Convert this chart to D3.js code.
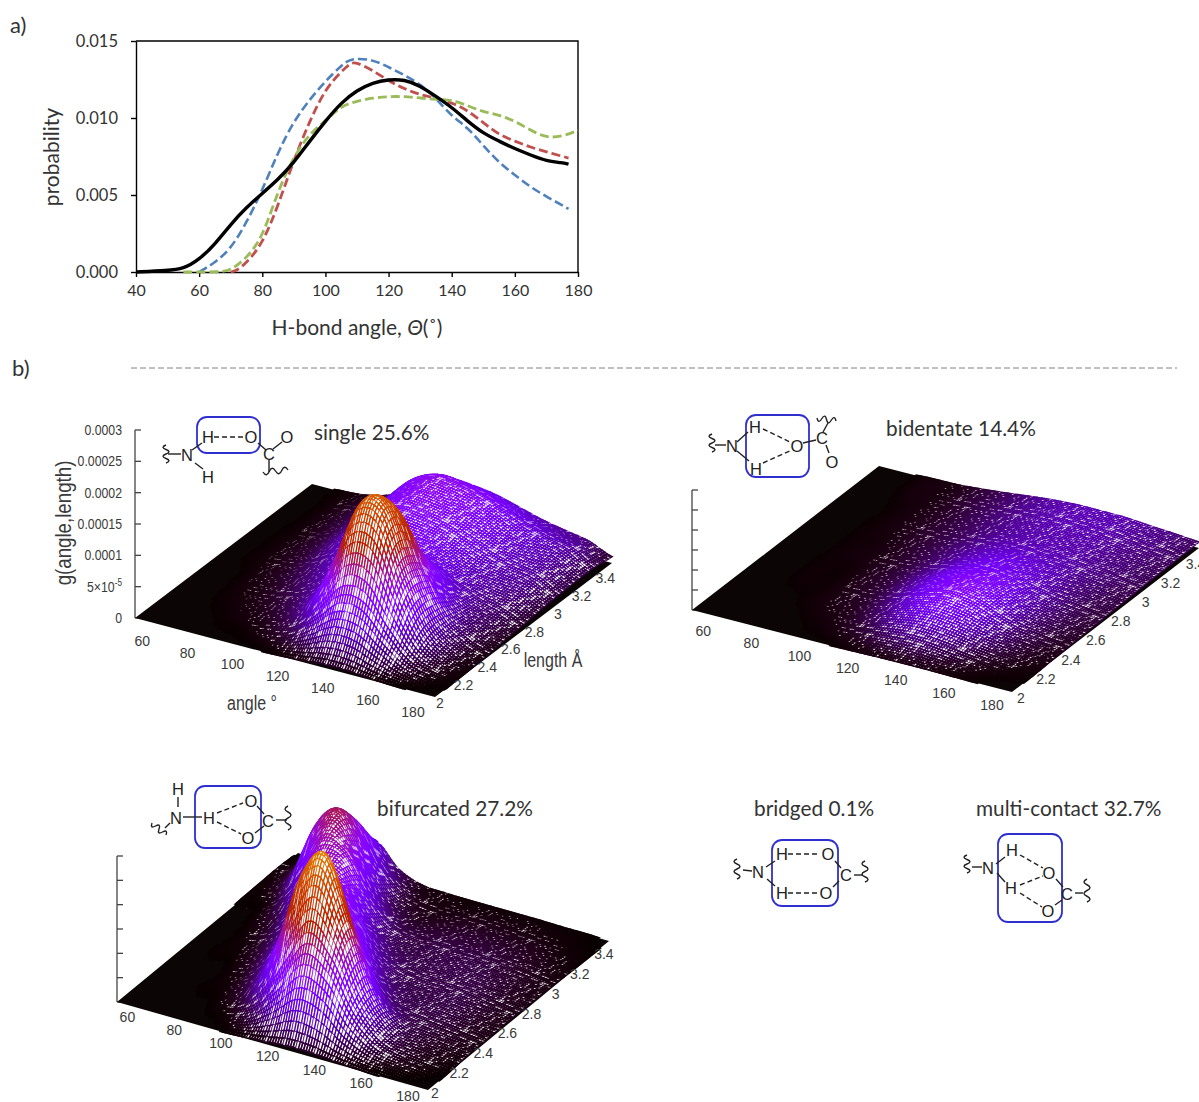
<!DOCTYPE html>
<html>
<head>
<meta charset="utf-8">
<style>
  html, body { margin: 0; padding: 0; background: #fff; }
  svg { display: block; }
  text { fill: #333; font-family: Lato, "Open Sans", sans-serif; }
  .plot-label { font-family: "Liberation Sans", sans-serif; fill: #3a3a3a; }
  .chem { font-family: "Liberation Sans", sans-serif; font-size: 16.5px; fill: #222; text-anchor: middle; dominant-baseline: central; }
  .mesh { filter: blur(.45px); }
</style>
</head>
<body>
<svg id="chart" width="1199" height="1102"></svg>
<script src="https://cdn.jsdelivr.net/npm/d3@7"></script>
<script>
const width = 1199;
const height = 1102;

// a) probability vs H-bond angle, [angle, probability]
const blackSeries = [[40,0],[50,.0001],[55,.0002],[60,.0008],[65,.0018],[70,.0031],[75,.0042],[80,.0051],[85,.006],[90,.0071],[95,.0085],[100,.0098],[105,.011],[110,.0118],[115,.0123],[120,.0125],[125,.0125],[130,.0121],[135,.0114],[140,.0107],[145,.0098],[150,.009],[155,.0085],[160,.008],[165,.0076],[170,.0072],[175,.0071],[177,.007]];
const blueSeries = [[60,0],[65,.0006],[70,.0015],[75,.0032],[80,.0053],[85,.0078],[90,.0098],[95,.0112],[100,.0124],[105,.0134],[108,.0139],[115,.0138],[120,.0133],[125,.0128],[130,.0122],[135,.0113],[140,.0101],[145,.0094],[150,.0082],[155,.0071],[160,.0063],[165,.0055],[170,.0049],[177,.0041]];
const redSeries = [[70,0],[72,.0001],[75,.0006],[80,.0018],[85,.0043],[90,.0073],[95,.0098],[100,.0119],[105,.013],[108,.0136],[110,.0136],[115,.0131],[120,.0124],[125,.0119],[130,.0115],[135,.0113],[140,.011],[145,.0105],[150,.0097],[155,.0089],[160,.0085],[165,.0081],[170,.0078],[177,.0074]];
const greenSeries = [[55,0],[67,0],[70,.0001],[75,.0009],[80,.0022],[85,.0053],[90,.0075],[95,.009],[100,.0098],[105,.0108],[110,.0111],[115,.0113],[120,.0114],[125,.0114],[130,.0113],[135,.0112],[140,.0112],[145,.0108],[150,.0104],[155,.0102],[160,.0098],[165,.0092],[170,.0087],[175,.0088],[180,.0092]];
const probTicks = [0, .005, .01, .015];
const angleAxisTicks = [40, 60, 80, 100, 120, 140, 160, 180];

// b) surfaces, g(angle,length) in units of 1e-5
const angleGrid = [50,60,70,80,90,100,110,120,130,140,150,160,170,180];
const lengthGrid = [2,2.15,2.3,2.45,2.6,2.75,2.9,3.05,3.2,3.35,3.5];
const singleGrid = [
  [0,0,0,0,0,0,.1,.3,.6,.6,.3,.1,0,0],
  [0,0,0,.1,.2,.7,1.9,5.1,8.8,8.7,4.9,1.7,.5,.1],
  [0,0,.1,.3,.7,1.8,4.8,12.1,20.8,20.6,11.5,4,1.2,.2],
  [0,0,.2,.5,1.3,2.8,5.7,12.3,20,19.6,11.2,4.3,1.6,.4],
  [0,0,.3,.8,2,3.9,5.8,9,12.6,12,7.3,3.5,1.9,.7],
  [0,.1,.4,1.1,2.8,5,6.4,7.1,7.5,6.6,4.7,3.2,2.2,.9],
  [0,.1,.5,1.4,3.6,6.4,7.7,7.6,7,5.8,4.4,3.6,2.8,1.2],
  [0,.1,.5,1.6,4,7.2,8.6,8.4,7.6,6.3,5,4,3.2,1.4],
  [0,.1,.6,1.8,4.4,7.8,9.4,9.1,8.2,6.9,5.4,4.4,3.4,1.5],
  [0,.1,.6,1.8,4.5,8,9.6,9.3,8.4,7,5.5,4.5,3.5,1.5],
  [0,.1,.4,1.3,3.2,5.6,6.7,6.5,5.9,4.9,3.9,3.2,2.5,1]
];
const bidentateGrid = [
  [0,0,0,0,0,0,.1,.2,.3,.3,.2,.1,0,0],
  [0,0,0,0,.1,.3,.8,1.6,2,1.8,1.1,.5,.2,.1],
  [0,0,0,.1,.3,.6,1.8,3.5,4.5,4,2.6,1.3,.6,.3],
  [0,0,.1,.1,.4,.9,2.5,4.8,6.2,5.6,3.6,1.8,.9,.5],
  [0,0,.1,.1,.5,1.1,2.7,4.9,6.2,5.7,3.8,2.1,1.2,.7],
  [0,0,.1,.2,.5,1.1,2.4,4.1,5.1,4.7,3.4,2.2,1.3,.9],
  [0,0,.1,.2,.6,1.2,2.2,3.4,4.2,3.9,3.1,2.1,1.5,1.1],
  [0,0,.1,.3,.7,1.2,2,2.8,3.2,3.1,2.8,2.2,1.7,1.3],
  [0,0,.1,.3,.7,1.3,2,2.6,2.9,2.9,2.7,2.2,1.8,1.4],
  [0,0,.2,.3,.8,1.4,2.1,2.7,3,3,2.9,2.4,2,1.5],
  [0,0,.2,.3,.8,1.4,2.1,2.7,3,3,2.9,2.4,2,1.5]
];
const bifurcatedGrid = [
  [0,0,0,0,0,.2,.5,.9,.9,.5,.2,0,0,0],
  [0,0,0,.1,.8,4,11,18,15,7,2.5,1,.4,.1],
  [0,0,.1,.5,3.4,13,28,34,22,9.2,3,1.4,.8,.4],
  [0,0,.1,1.3,6.2,17,26,21.6,10.4,3.9,2.1,1.6,1,.5],
  [0,.1,.4,2.7,8.9,17,18,10.6,4.2,2.2,2,1.8,1.1,.6],
  [0,.1,1,4.5,11,15,11,5,2.5,2,2,1.8,1.1,.6],
  [0,.3,2.5,9,14,11.6,5.3,2.4,2,2,2,1.6,1,.5],
  [.1,1,7,16,15.2,8,3,1.8,1.8,1.8,1.7,1.3,.8,.4],
  [.2,3.5,15,19,11.2,3.6,1.2,1,1.2,1.2,1.1,.9,.5,.2],
  [.3,4,14,14,6.5,1.7,.6,.5,.6,.6,.5,.4,.2,.1],
  [0,1,5,7.2,2.6,.6,.3,.2,.2,.2,.2,.1,.1,0]
];
const surfaceAngleTicks = [60,80,100,120,140,160,180];
const surfaceLengthTicks = [2,2.2,2.4,2.6,2.8,3,3.2,3.4];
const zTickLabels = ["0","5×10","0.0001","0.00015","0.0002","0.00025","0.0003"];
const zTickValues = [0,5,10,15,20,25,30];

const svg = d3.select("#chart");

// ---- a) line chart
const x = d3.scaleLinear().domain([40, 180]).range([136, 578]);
const y = d3.scaleLinear().domain([0, .015]).range([272, 41]);
const line = d3.line().x(d => x(d[0])).y(d => y(d[1])).curve(d3.curveBasis);

svg.append("g").attr("transform", "translate(0,272)")
    .call(d3.axisBottom(x).tickValues(angleAxisTicks).tickSize(5).tickSizeOuter(0).tickFormat(d3.format("d")))
    .call(g => g.selectAll("text").attr("dy", "1em").style("font-size", "16px").style("font-family", "Lato"))
    .call(g => g.selectAll("path,line").attr("stroke-width", 1.4));
svg.append("g").attr("transform", "translate(136,0)")
    .call(d3.axisLeft(y).tickValues(probTicks).tickSize(5).tickSizeOuter(0).tickPadding(13).tickFormat(d3.format(".3f")))
    .call(g => g.selectAll("text").style("font-size", "16.5px").style("font-family", "Lato"))
    .call(g => g.selectAll("path,line").attr("stroke-width", 1.4));
svg.append("path").attr("d", "M136,41H578V272").attr("fill", "none").attr("stroke", "#000").attr("stroke-width", 1.4);

[[blueSeries, "#4f81bd", 2.6], [redSeries, "#c0504d", 2.8], [greenSeries, "#9bbb59", 2.8]].forEach(s => {
    svg.append("path").attr("d", line(s[0])).attr("fill", "none")
        .attr("stroke", s[1]).attr("stroke-width", s[2]).attr("stroke-dasharray", "9,4");
});
svg.append("path").attr("d", line(blackSeries)).attr("fill", "none").attr("stroke", "#000").attr("stroke-width", 3.4);

svg.append("text").attr("x", 10).attr("y", 33).style("font-size", "22px").text("a)");
svg.append("text").attr("x", 12).attr("y", 376).style("font-size", "22px").text("b)");
svg.append("text").attr("transform", "translate(59,157) rotate(-90)").attr("text-anchor", "middle")
    .style("font-size", "21px").text("probability");
const xTitle = svg.append("text").attr("x", 357).attr("y", 335).attr("text-anchor", "middle").style("font-size", "21px");
xTitle.append("tspan").text("H-bond angle, ");
xTitle.append("tspan").style("font-style", "italic").text("Θ");
xTitle.append("tspan").text("(˚)");

svg.append("line").attr("x1", 131).attr("x2", 1177).attr("y1", 368).attr("y2", 368)
    .attr("stroke", "#808080").attr("stroke-dasharray", "6,3");

// ---- b) surfaces
// gnuplot default pm3d palette: rgbformulae 7,5,15
function palette(t) {
    t = Math.max(0, Math.min(1, t));
    return d3.rgb(255 * Math.sqrt(t), 255 * t * t * t, 255 * Math.max(0, Math.sin(2 * Math.PI * t))).formatHex();
}

// passes through the read grid values, only for drawing the fine mesh between them
function catmull(arr, u) {
    const n = arr.length - 1;
    const i = Math.min(n - 1, Math.floor(u));
    const t = u - i;
    const p0 = arr[Math.max(0, i - 1)], p1 = arr[i], p2 = arr[i + 1], p3 = arr[Math.min(n, i + 2)];
    return Math.max(0, .5 * (2 * p1 + (p2 - p0) * t + (2 * p0 - 5 * p1 + 4 * p2 - p3) * t * t + (3 * p1 - p0 - 3 * p2 + p3) * t * t * t));
}

function drawSurface(cfg) {
    const g = svg.append("g");
    const ta = d3.scaleLinear().domain([47, 180]).range([0, 1]);
    const tl = d3.scaleLinear().domain([2, 3.5]).range([0, 1]);
    const z = d3.scaleLinear().domain([0, 30]).range([0, cfg.zPx]);
    const ax = cfg.front[0] - cfg.left[0], ay = cfg.front[1] - cfg.left[1];
    const bx = cfg.right[0] - cfg.front[0], by = cfg.right[1] - cfg.front[1];
    const proj = (a, l, v) => [
        cfg.left[0] + ta(a) * ax + tl(l) * bx,
        cfg.left[1] + ta(a) * ay + tl(l) * by - z(v)
    ];

    // z axis
    zTickValues.forEach(t => {
        const p = cfg.left[1] - z(t);
        g.append("line").attr("x1", cfg.left[0]).attr("x2", cfg.left[0] + 6).attr("y1", p).attr("y2", p).attr("stroke", "#444").attr("stroke-width", 1.3);
    });
    g.append("line").attr("x1", cfg.left[0]).attr("x2", cfg.left[0]).attr("y1", cfg.left[1]).attr("y2", cfg.left[1] - z(30)).attr("stroke", "#444").attr("stroke-width", 1.3);

    const mesh = g.append("g").attr("class", "mesh");
    mesh.append("polygon").attr("fill", "#0b0505")
        .attr("points", [proj(47, 2, 0), proj(180, 2, 0), proj(180, 3.5, 0), proj(47, 3.5, 0)].join(" "));

    // fine mesh, back corner first so nearer cells cover farther ones
    const nA = 120, nL = 96;
    const angles = d3.range(nA + 1).map(i => 47 + 133 * i / nA);
    const lengths = d3.range(nL + 1).map(i => 2 + 1.5 * i / nL);
    const angU = d3.scaleLinear().domain(angleGrid).range(d3.range(angleGrid.length)).clamp(true);
    const lenU = d3.scaleLinear().domain(lengthGrid).range(d3.range(lengthGrid.length)).clamp(true);
    const surf = lengths.map(l => {
        const row = angleGrid.map((_, c) => catmull(cfg.grid.map(r => r[c]), lenU(l)));
        return angles.map(a => catmull(row, angU(a)));
    });

    const cells = [];
    for (let j = nL - 1; j >= 0; j--) {
        for (let i = 0; i < nA; i++) {
            const v = (surf[j][i] + surf[j][i + 1] + surf[j + 1][i] + surf[j + 1][i + 1]) / 4;
            if (v < .05) continue;
            const pts = [proj(angles[i], lengths[j], surf[j][i]), proj(angles[i + 1], lengths[j], surf[j][i + 1]),
                proj(angles[i + 1], lengths[j + 1], surf[j + 1][i + 1]), proj(angles[i], lengths[j + 1], surf[j + 1][i])];
            // some cells get a thinner wire, the gaps read as the light speckle of the original mesh
            const thin = (i * i * 7 + j * j * 11 + i * j * 3) % 19 < 4 && v > .25;
            cells.push({ v: v, pts: pts, thin: thin });
        }
    }
    mesh.selectAll("path.cell").data(cells).enter().append("path").attr("class", "cell")
        .attr("d", d => "M" + d.pts.map(p => [p[0].toFixed(1), p[1].toFixed(1)]).join("L") + "Z")
        .attr("fill", "#fff")
        .attr("stroke", d => palette(d.v / cfg.cbMax))
        .attr("stroke-width", d => (1.35 + .8 * Math.exp(-d.v / 1.2)) * (d.thin ? .3 : 1));

    // axis labels
    g.selectAll("text.atick").data(surfaceAngleTicks).enter().append("text").attr("class", "plot-label")
        .attr("text-anchor", "middle").attr("dominant-baseline", "central").style("font-size", "14px")
        .attr("x", d => proj(d, 2, 0)[0] + cfg.aOff[0]).attr("y", d => proj(d, 2, 0)[1] + cfg.aOff[1]).text(d => d);
    g.selectAll("text.ltick").data(surfaceLengthTicks).enter().append("text").attr("class", "plot-label")
        .attr("text-anchor", "middle").attr("dominant-baseline", "central").style("font-size", "14px")
        .attr("x", d => proj(180, d, 0)[0] + cfg.lOff[0]).attr("y", d => proj(180, d, 0)[1] + cfg.lOff[1]).text(d => d);

    if (cfg.labels) {
        zTickValues.forEach((t, i) => {
            const lab = g.append("text").attr("class", "plot-label").attr("text-anchor", "end").attr("dominant-baseline", "central")
                .style("font-size", "15px").attr("transform", `translate(122,${cfg.left[1] - z(t)}) scale(.82,1)`).text(zTickLabels[i]);
            if (t === 5) lab.append("tspan").attr("dy", -4).style("font-size", "10px").text("-5");
        });
        g.append("text").attr("class", "plot-label").attr("transform", "translate(71,523) rotate(-90) scale(.85,1)")
            .attr("text-anchor", "middle").style("font-size", "22px").text("g(angle,length)");
        g.append("text").attr("class", "plot-label").attr("transform", "translate(553,667) scale(.8,1)")
            .attr("text-anchor", "middle").style("font-size", "20px").text("length Å");
        g.append("text").attr("class", "plot-label").attr("transform", "translate(252,710) scale(.8,1)")
            .attr("text-anchor", "middle").style("font-size", "20px").text("angle °");
    }
}

drawSurface({ grid: singleGrid, left: [135, 618], front: [435, 697], right: [612, 563], zPx: 188, cbMax: 32, aOff: [-22, 15], lOff: [5, 6], labels: true });
drawSurface({ grid: bidentateGrid, left: [692, 610], front: [1012, 692], right: [1199, 548], zPx: 120, cbMax: 24, aOff: [-20, 13], lOff: [9, 6], labels: false });
drawSurface({ grid: bifurcatedGrid, left: [117, 1002], front: [428, 1090], right: [609, 941], zPx: 146, cbMax: 43, aOff: [-20, 6], lOff: [7, 3], labels: false });

// ---- titles of the five contact types
const titles = [["single 25.6%", 314, 440], ["bidentate 14.4%", 886, 436], ["bifurcated 27.2%", 377, 816], ["bridged 0.1%", 754, 816], ["multi-contact 32.7%", 976, 816]];
svg.selectAll("text.title").data(titles).enter().append("text").attr("class", "title")
    .attr("x", d => d[1]).attr("y", d => d[2]).style("font-size", "20.8px").text(d => d[0]);

// ---- small structure sketches
function wave(x0, y0, x1, y1) {
    const n = 4, dx = (x1 - x0) / n, dy = (y1 - y0) / n, len = Math.hypot(dx, dy);
    const nx = -dy / len * 6, ny = dx / len * 6;
    let d = `M${x0},${y0}`;
    for (let i = 0; i < n; i++) {
        const s = i % 2 ? -1 : 1;
        d += `Q${x0 + dx * (i + .5) + nx * s},${y0 + dy * (i + .5) + ny * s} ${x0 + dx * (i + 1)},${y0 + dy * (i + 1)}`;
    }
    return d;
}

function drawSketch(s) {
    const g = svg.append("g");
    g.append("rect").attr("x", s.box[0]).attr("y", s.box[1]).attr("width", s.box[2] - s.box[0]).attr("height", s.box[3] - s.box[1])
        .attr("rx", 10).attr("fill", "none").attr("stroke", "#2f2fd0").attr("stroke-width", 1.8);
    g.selectAll("line.bond").data(s.bonds).enter().append("line")
        .attr("x1", d => d[0]).attr("y1", d => d[1]).attr("x2", d => d[2]).attr("y2", d => d[3]).attr("stroke", "#222").attr("stroke-width", 1.4);
    g.selectAll("line.dash").data(s.dashes).enter().append("line")
        .attr("x1", d => d[0]).attr("y1", d => d[1]).attr("x2", d => d[2]).attr("y2", d => d[3]).attr("stroke", "#222").attr("stroke-width", 1.4).attr("stroke-dasharray", "5,3");
    g.selectAll("path.wave").data(s.waves).enter().append("path")
        .attr("d", d => wave(d[0], d[1], d[2], d[3])).attr("fill", "none").attr("stroke", "#222").attr("stroke-width", 1.4);
    g.selectAll("text.chem").data(s.atoms).enter().append("text").attr("class", "chem")
        .attr("x", d => d[1]).attr("y", d => d[2]).text(d => d[0]);
}

drawSketch({
    box: [197, 417, 260, 453],
    atoms: [["H", 208, 437], ["O", 251, 437], ["O", 287, 437], ["N", 187, 455], ["H", 208, 477], ["C", 269, 454]],
    bonds: [[192, 450, 202, 443], [195, 463, 203, 469], [258, 443, 266, 450], [273, 449, 282, 442], [269, 460, 269, 472], [168, 454, 181, 454]],
    dashes: [[214, 437, 245, 437]],
    waves: [[166, 445, 166, 463], [263, 472, 288, 470]]
});
drawSketch({
    box: [746, 415, 809, 477],
    atoms: [["H", 755, 427], ["H", 756, 469], ["O", 797, 446], ["N", 732, 446], ["C", 822, 438], ["O", 832, 462]],
    bonds: [[737, 442, 748, 432], [737, 451, 749, 461], [803, 443, 816, 440], [826, 445, 829, 453], [823, 432, 828, 423], [715, 445, 726, 445]],
    dashes: [[763, 429, 790, 442], [763, 463, 792, 450]],
    waves: [[712, 434, 712, 452], [817, 418, 836, 421]]
});
drawSketch({
    box: [195, 786, 261, 848],
    atoms: [["H", 178, 789], ["N", 176, 818], ["H", 209, 818], ["O", 251, 801], ["O", 248, 838], ["C", 268, 821]],
    bonds: [[178, 797, 178, 807], [183, 817, 202, 817], [257, 806, 264, 814], [255, 833, 264, 826], [276, 820, 287, 820], [170, 823, 165, 828]],
    dashes: [[217, 813, 243, 803], [217, 822, 241, 834]],
    waves: [[288, 806, 288, 830], [152, 823, 166, 835]]
});
drawSketch({
    box: [772, 840, 838, 906],
    atoms: [["H", 782, 854], ["O", 828, 854], ["H", 782, 893], ["O", 826, 893], ["N", 758, 872], ["C", 846, 875]],
    bonds: [[766, 867, 775, 861], [767, 879, 775, 886], [835, 861, 841, 868], [833, 887, 839, 881], [854, 875, 863, 875], [743, 870, 752, 871]],
    dashes: [[788, 854, 820, 854], [788, 893, 820, 893]],
    waves: [[737, 859, 737, 879], [865, 861, 865, 882]]
});
drawSketch({
    box: [998, 834, 1062, 922],
    atoms: [["H", 1012, 850], ["H", 1011, 888], ["N", 988, 868], ["O", 1049, 873], ["O", 1048, 911], ["C", 1067, 894]],
    bonds: [[996, 864, 1005, 857], [997, 873, 1005, 882], [1056, 879, 1063, 887], [1055, 905, 1062, 900], [1075, 893, 1083, 893], [972, 867, 982, 867]],
    dashes: [[1020, 855, 1043, 868], [1020, 885, 1043, 876], [1020, 893, 1042, 907]],
    waves: [[967, 855, 967, 873], [1087, 879, 1087, 902]]
});
</script>
</body>
</html>
